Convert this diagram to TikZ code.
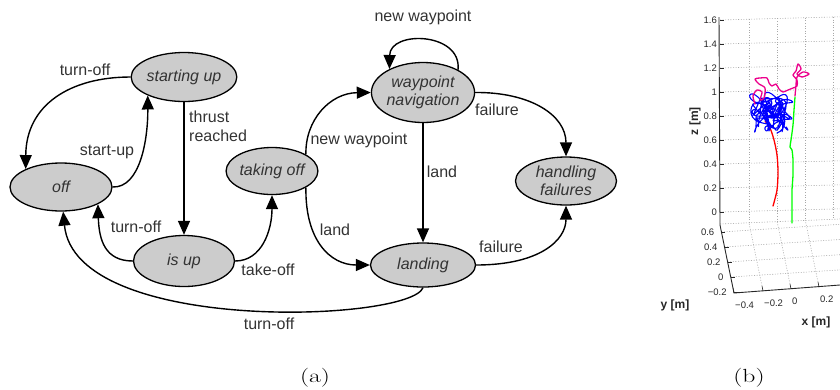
\documentclass[tikz,border=0pt]{standalone}
\usepackage{fontspec}
\newfontfamily\arial{Liberation Sans}
\usetikzlibrary{shapes.geometric,arrows.meta}
\definecolor{nodegray}{HTML}{CCCCCC}
\definecolor{txt}{HTML}{333333}
\definecolor{gridgray}{HTML}{A8A8A8}
\begin{document}
\begin{tikzpicture}[x=1pt,y=-1pt,
 state/.style={ellipse,draw,line width=1.3pt,fill=nodegray,inner sep=0pt,font=\arial\itshape\fontsize{16}{18}\selectfont,text=txt,align=center},
 lbl/.style={font=\arial\fontsize{16}{19}\selectfont,text=txt,inner sep=0pt},
 arr/.style={line width=1.4pt,-{Triangle[length=14pt,width=12pt]}},
 gridline/.style={gridgray,line width=0.6pt,dash pattern=on 1pt off 1.6pt},
 axline/.style={black!85,line width=0.9pt},
 ticklbl/.style={font=\arial\fontsize{9.5}{11}\selectfont,inner sep=0pt,text=black!85},
 axlbl/.style={font=\arial\bfseries\fontsize{12}{14}\selectfont,inner sep=0pt,text=black!85},
 traj/.style={line width=1.3pt,line join=round,line cap=round},
 caption/.style={font=\fontsize{19}{22}\selectfont,inner sep=0pt},
]
\useasboundingbox (0,0) rectangle (840,389);

% ---------- (a) state machine ----------
\node[state,minimum width=101pt,minimum height=49pt] (start) at (184,77) {starting up};
\node[state,minimum width=102pt,minimum height=48pt] (off) at (61,187) {off};
\node[state,minimum width=101pt,minimum height=51pt] (isup) at (184,261) {is up};
\node[state,minimum width=89pt,minimum height=47pt] (takeoff) at (272,171) {taking off};
\node[state,minimum width=102pt,minimum height=60pt] (wp) at (423,92.5) {waypoint\\navigation};
\node[state,minimum width=101pt,minimum height=48pt] (hf) at (566,181) {handling\\failures};
\node[state,minimum width=105pt,minimum height=44pt] (land) at (423,265) {landing};

\draw[arr] (start.west) .. controls (70,77) and (26,105) .. (off.153);
\draw[arr] (off.east) .. controls (140,188) and (148,140) .. (start.207);
\draw[arr] (start.south) -- (isup.north);
\draw[arr] (isup.west) .. controls (105,261) and (99,240) .. (off.335);
\draw[arr] (isup.east) .. controls (262,261) and (272,230) .. (takeoff.south);
\draw[arr] (land.south) .. controls (410,322) and (75,335) .. (off.275);
\draw[arr] (takeoff.26) .. controls (305,120) and (330,93) .. (wp.west);
\draw[arr] (takeoff.334) .. controls (305,240) and (330,265) .. (land.west);
\draw[arr] (wp.south) -- (land.north);
\draw[arr] (wp.33) .. controls (462,32) and (390,30) .. (wp.145);
\draw[arr] (wp.east) .. controls (530,92) and (566,115) .. (hf.north);
\draw[arr] (land.east) .. controls (540,265) and (566,240) .. (hf.south);

\node[lbl] (l1) at (85,70) {turn-off};
\node[lbl] (l2) at (107,152) {start-up};
\node[lbl,align=left,anchor=west] (l3) at (189,126) {thrust\\reached};
\node[lbl] (l4) at (136,227) {turn-off};
\node[lbl] (l5) at (268,270) {take-off};
\node[lbl] (l6) at (269,324) {turn-off};
\node[lbl] (l7) at (359,140) {new waypoint};
\node[lbl] (l8) at (335,230) {land};
\node[lbl] (l9) at (442,172) {land};
\node[lbl] (l10) at (423,17) {new waypoint};
\node[lbl] (l11) at (497,110) {failure};
\node[lbl] (l12) at (501,247) {failure};

\node[caption] (capa) at (315,378) {\scalebox{1.35}[1]{(a)}};
\node[caption] (capb) at (749,378) {\scalebox{1.35}[1]{(b)}};

% ---------- (b) 3D plot ----------
\begin{scope}
\clip (640,0) rectangle (840,389);
% back wall horizontal grid
\foreach \yy in {20,44,68,92,116,140,164,188,212}
  \draw[gridline] (720,\yy) -- (840,\yy-3.2);
% back wall vertical grid
\foreach \xx in {749,777,805,833}
  \draw[gridline] (\xx,{20-0.027*(\xx-720)}) -- (\xx,{224-0.042*(\xx-720)});
\draw[gridline] (720,224) -- (840,219);
% floor grid along x
\foreach \yy in {232,247,262,277}
  \draw[gridline] ({720+(\yy-225)*0.206},\yy) -- (840,{\yy-0.065*(120-(\yy-225)*0.206)});
% floor grid along y
\foreach \xx/\yy in {763/291,791/289,819/287}
  \draw[gridline] (\xx,\yy) -- (\xx-14,\yy-68);

% axes
\draw[axline] (719,17) -- (720,225) -- (734,293) -- (840,285);
\foreach \yy/\lab in {20/1.6,44/1.4,68/1.2,92/1,116/0.8,140/0.6,164/0.4,188/0.2,212/0}{
  \draw[axline,line width=0.6pt] (720,\yy) -- (724,\yy);
  \node[ticklbl,anchor=east] at (717,\yy) {\lab};
}
\foreach \yy/\lab in {232/0.6,247/0.4,262/0.2,277/0,292/−0.2}{
  \draw[axline,line width=0.6pt] ({720+(\yy-225)*0.206},\yy) -- ({724+(\yy-225)*0.206},\yy);
  \node[ticklbl,anchor=east] at ({713+(\yy-225)*0.206},\yy) {\lab};
}
\foreach \xx/\yy/\lab in {734/293/−0.4,763/291/−0.2,791/289/0,819/287/0.2}{
  \draw[axline,line width=0.6pt] (\xx,\yy) -- (\xx-1,\yy-5);
  \node[ticklbl,anchor=west] at (\xx+1,\yy+12) {\lab};
}
\node[axlbl,rotate=90] (zl) at (695,121) {z [m]};
\node[axlbl] (yl) at (675,305) {y [m]};
\node[axlbl] (xl) at (816,322) {x [m]};

% trajectories
\draw[traj,red] plot[smooth] coordinates {(773,206) (777,190) (778,172) (777,155) (774,140) (770,128) (765,121)};
\draw[traj,green] plot[smooth,tension=0.4] coordinates {(792,223) (792,205) (792,190) (793,175) (793,160) (792,150) (790,147) (791,140) (793,125) (794,110) (795,97)};
\draw[traj,blue,line width=1.1pt] plot[domain=0:20,samples=500,variable=\t]
  ({771 + 12*sin(mod(2.3*\t,6.2832) r) + 7*sin(mod(5.7*\t+1,6.2832) r) + 3*sin(mod(11.9*\t,6.2832) r)},
   {113 + 10*cos(mod(1.9*\t,6.2832) r) + 8*cos(mod(6.3*\t+0.5,6.2832) r) + 3*cos(mod(13.1*\t,6.2832) r)});
\draw[traj,magenta] plot[smooth,tension=0.5] coordinates {(755,104) (753,96) (757,90) (762,92) (760,100) (764,98) (765,88) (759,84) (755,79) (760,78) (767,78) (769,83) (772,86) (776,84) (779,89) (783,92) (788,90) (793,88) (797,86) (797,80) (793,75) (796,71) (798,64) (801,69) (797,74) (802,77) (809,74) (803,72) (797,77) (796,85) (795,96)};
\end{scope}
\end{tikzpicture}
\end{document}
